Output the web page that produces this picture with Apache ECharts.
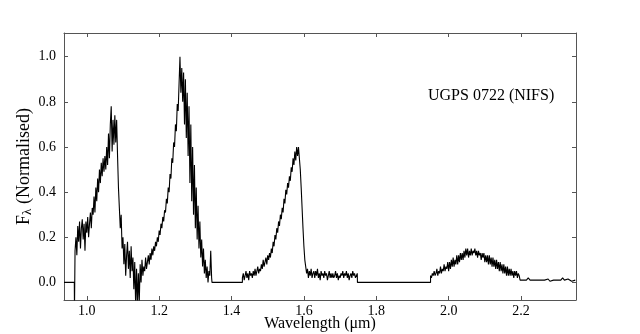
<!DOCTYPE html>
<html><head><meta charset="utf-8">
<script src="https://cdn.jsdelivr.net/npm/echarts@6/dist/echarts.min.js"></script>
<style>html,body{margin:0;padding:0;background:#fff}#c{width:640px;height:334px}</style>
</head><body><div id="c"></div>
<script>
// Tick labels
const xTicks = [1.0, 1.2, 1.4, 1.6, 1.8, 2.0, 2.2];
const yTicks = [0.0, 0.2, 0.4, 0.6, 0.8, 1.0];

// Flat (zero-filled) gaps and edges: [wavelength, flux]
const gapStart = [[0.937, 0], [0.9655, 0], [0.966, -0.12]];
const gapJH = [[1.346, 0], [1.43, 0]];
const gapHK = [[1.748, 0], [1.95, 0]];

// Y/J band segment: start 0.9675 um, step 0.0025 um
const segYJStart = 0.9675, segYJStep = 0.0025;
const segYJ = [
  0.14, 0.20, 0.12, 0.25, 0.18, 0.27, 0.15, 0.24, 0.28, 0.19,
  0.26, 0.14, 0.27, 0.22, 0.29, 0.20, 0.26, 0.31, 0.24, 0.33,
  0.30, 0.38, 0.31, 0.42, 0.36, 0.46, 0.40, 0.50, 0.44, 0.53,
  0.47, 0.55, 0.49, 0.56, 0.50, 0.60, 0.52, 0.66, 0.55, 0.70,
  0.78, 0.58, 0.72, 0.61, 0.74, 0.62, 0.72, 0.56, 0.42, 0.33,
  0.24, 0.30, 0.15, 0.20, 0.08, 0.17, 0.03, 0.12, 0.18, 0.06,
  0.14, 0.02, 0.16, 0.05, 0.11, -0.03, 0.09, -0.10, 0.06, -0.10,
  0.04, -0.09, 0.08, 0.00, 0.10, 0.03, 0.07, 0.05, 0.11, 0.06,
  0.09, 0.12, 0.08, 0.13, 0.10, 0.15, 0.12, 0.16, 0.14, 0.18,
  0.16, 0.20, 0.18, 0.23, 0.21, 0.26, 0.24, 0.29, 0.27, 0.32,
  0.31, 0.37, 0.35, 0.42, 0.40, 0.48, 0.46, 0.55, 0.53, 0.62,
  0.60, 0.70, 0.67, 0.79, 0.76, 0.88, 1.00, 0.84, 0.95, 0.80,
  0.93, 0.70, 0.90, 0.64, 0.84, 0.56, 0.78, 0.44, 0.70, 0.36,
  0.60, 0.30, 0.52, 0.24, 0.42, 0.19, 0.34, 0.15, 0.27, 0.11,
  0.19, 0.07, 0.15, 0.04, 0.10, 0.02, 0.07, 0.00, 0.05, 0.03,
  0.14, 0.02
];

// H band segment: start 1.43 um, step 0.0025 um
const segHStart = 1.43, segHStep = 0.0025;
const segH = [
  0.02, 0.04, 0.01, 0.03, 0.05, 0.02, 0.04, 0.01, 0.05, 0.03,
  0.04, 0.02, 0.05, 0.03, 0.06, 0.03, 0.05, 0.07, 0.04, 0.06,
  0.05, 0.08, 0.06, 0.10, 0.07, 0.09, 0.11, 0.08, 0.12, 0.10,
  0.13, 0.11, 0.15, 0.13, 0.18, 0.16, 0.21, 0.19, 0.24, 0.22,
  0.27, 0.25, 0.30, 0.28, 0.33, 0.31, 0.37, 0.35, 0.41, 0.39,
  0.44, 0.42, 0.47, 0.45, 0.51, 0.49, 0.55, 0.52, 0.58, 0.54,
  0.60, 0.56, 0.60, 0.55, 0.50, 0.42, 0.33, 0.24, 0.16, 0.10,
  0.07, 0.04, 0.06, 0.02, 0.05, 0.03, 0.06, 0.02, 0.04, 0.05,
  0.02, 0.05, 0.03, 0.06, 0.02, 0.04, 0.01, 0.05, 0.03, 0.04,
  0.02, 0.05, 0.03, 0.04, 0.01, 0.03, 0.05, 0.02, 0.04, 0.02,
  0.04, 0.02, 0.03, 0.05, 0.02, 0.04, 0.01, 0.03, 0.02, 0.04,
  0.03, 0.05, 0.02, 0.04, 0.03, 0.05, 0.02, 0.04, 0.01, 0.03,
  0.04, 0.02, 0.05, 0.03, 0.04, 0.02, 0.03, 0.04
];

// K band segment: start 1.95 um, step 0.0025 um
const segKStart = 1.95, segKStep = 0.0025;
const segK = [
  0.03, 0.02, 0.04, 0.03, 0.05, 0.03, 0.04, 0.06, 0.03, 0.05,
  0.04, 0.07, 0.04, 0.06, 0.05, 0.08, 0.05, 0.07, 0.06, 0.09,
  0.05, 0.09, 0.06, 0.10, 0.07, 0.11, 0.07, 0.10, 0.08, 0.12,
  0.08, 0.12, 0.09, 0.13, 0.10, 0.13, 0.10, 0.14, 0.11, 0.15,
  0.12, 0.15, 0.11, 0.14, 0.12, 0.15, 0.12, 0.14, 0.13, 0.15,
  0.12, 0.14, 0.11, 0.14, 0.12, 0.13, 0.10, 0.13, 0.11, 0.13,
  0.09, 0.12, 0.09, 0.12, 0.08, 0.12, 0.08, 0.11, 0.07, 0.11,
  0.07, 0.10, 0.06, 0.10, 0.06, 0.09, 0.05, 0.09, 0.05, 0.08,
  0.04, 0.08, 0.04, 0.07, 0.03, 0.07, 0.03, 0.06, 0.03, 0.06,
  0.03, 0.05, 0.02, 0.05, 0.03, 0.05, 0.02, 0.04, 0.03, 0.01,
  0.01
];

// K tail: start 2.205 um, step 0.005 um
const segTailStart = 2.205, segTailStep = 0.005;
const segTail = [
  0.01, 0.015, 0.01, 0.02, 0.01, 0.015, 0.01, 0.005, 0.01, 0.015,
  0.01, 0.005, 0.01, 0.01, 0.015, 0.005, 0.01, 0.01, 0.005, 0.01,
  0.015, 0.01, 0.02, 0.01, 0.005, 0.015, 0.01, 0.005, 0.01, 0.01
];

function seg(start, step, vals) {
  return vals.map((v, i) => [+(start + i * step).toFixed(4), v]);
}
const data = [].concat(
  gapStart,
  seg(segYJStart, segYJStep, segYJ),
  gapJH,
  seg(segHStart, segHStep, segH),
  gapHK,
  seg(segKStart, segKStep, segK),
  seg(segTailStart, segTailStep, segTail)
);

const FONT = '"Liberation Serif", "DejaVu Serif", serif';
const FRAME = '#555';
const X_MIN = 0.937, X_MAX = 2.352, Y_MIN = -0.078, Y_MAX = 1.105;

const chart = echarts.init(document.getElementById('c'), null, {renderer: 'canvas'});
const fmt = v => v.toFixed(1);
chart.setOption({
  animation: false,
  backgroundColor: '#fff',
  grid: {left: 64, right: 64, top: 33, bottom: 34, outerBoundsMode: 'none', containLabel: false},
  xAxis: [{
    type: 'value', min: X_MIN, max: X_MAX, position: 'bottom',
    name: 'Wavelength (μm)', nameLocation: 'middle', nameGap: 16, nameMoveOverlap: false,
    nameTextStyle: {fontFamily: FONT, fontSize: 16, color: '#000'},
    axisLine: {show: true, onZero: false, lineStyle: {color: FRAME, width: 1}},
    axisTick: {show: true, inside: true, length: 4, customValues: xTicks, lineStyle: {color: FRAME}},
    axisLabel: {customValues: xTicks, formatter: fmt, fontFamily: FONT, fontSize: 14, color: '#000', margin: 4},
    splitLine: {show: false}
  }, {
    type: 'value', min: X_MIN, max: X_MAX, position: 'top',
    axisLine: {show: true, onZero: false, lineStyle: {color: FRAME, width: 1}},
    axisTick: {show: true, inside: true, length: 4, customValues: xTicks, lineStyle: {color: FRAME}},
    axisLabel: {show: false}, splitLine: {show: false}
  }],
  yAxis: [{
    type: 'value', min: Y_MIN, max: Y_MAX, position: 'left',
    name: 'F{s|λ} (Normalised)', nameLocation: 'middle', nameGap: 30, nameRotate: 90, nameMoveOverlap: false,
    nameTextStyle: {fontFamily: FONT, fontSize: 18, color: '#000',
      rich: {s: {fontFamily: FONT, fontSize: 13, color: '#000', verticalAlign: 'bottom', padding: [6, 0, 0, 0]}}},
    axisLine: {show: true, onZero: false, lineStyle: {color: FRAME, width: 1}},
    axisTick: {show: true, inside: true, length: 4, customValues: yTicks, lineStyle: {color: FRAME}},
    axisLabel: {customValues: yTicks, formatter: fmt, fontFamily: FONT, fontSize: 14, color: '#000', margin: 8},
    splitLine: {show: false}
  }, {
    type: 'value', min: Y_MIN, max: Y_MAX, position: 'right',
    axisLine: {show: true, onZero: false, lineStyle: {color: FRAME, width: 1}},
    axisTick: {show: true, inside: true, length: 4, customValues: yTicks, lineStyle: {color: FRAME}},
    axisLabel: {show: false}, splitLine: {show: false}
  }],
  series: [{
    type: 'line', xAxisIndex: 0, yAxisIndex: 0, data: data,
    showSymbol: false, symbol: 'none', clip: true,
    lineStyle: {color: '#000', width: 1.1}
  }],
  graphic: [{
    type: 'text', left: 428, top: 88,
    style: {text: 'UGPS 0722 (NIFS)', font: '16px ' + FONT, fill: '#000'}
  }]
});
</script>
</body></html>
